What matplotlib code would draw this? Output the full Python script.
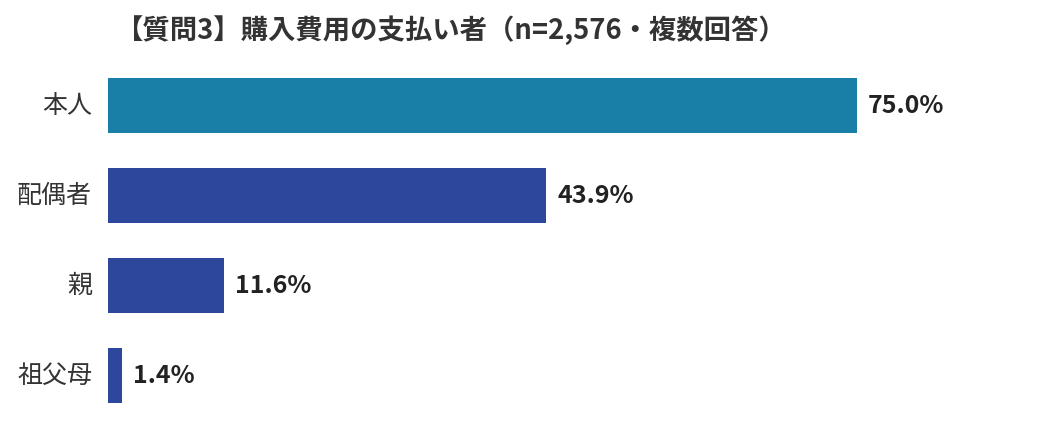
import matplotlib
matplotlib.use("Agg")
import matplotlib.pyplot as plt

plt.rcParams['font.family'] = ['Noto Sans CJK JP', 'DejaVu Sans']

title = "【質問3】購入費用の支払い者（n=2,576・複数回答）"
categories = ["本人", "配偶者", "親", "祖父母"]
values = [75.0, 43.9, 11.6, 1.4]
colors = ["#1a7fa6", "#2d479c", "#2d479c", "#2d479c"]

W, H = 1041, 435
fig = plt.figure(figsize=(W / 100, H / 100), dpi=100)
left_px = 108
ax = fig.add_axes([left_px / W, 0, (W - left_px) / W, 1])
px_per_unit = 9.98
ax.set_xlim(0, (W - left_px) / px_per_unit)
first_c, step = 106.0, 90.0
ax.set_ylim((H - first_c) / step, -first_c / step)

ypos = list(range(len(categories)))
ax.barh(ypos, values, height=55 / step, color=colors)
for y, v in zip(ypos, values):
    ax.text(v + 1.1, y, f"{v:.1f}%", va="center", ha="left",
            fontsize=18, fontweight="bold", color="#222222")
for y, c in zip(ypos, categories):
    ax.text(-1.6, y, c, va="center", ha="right", fontsize=18, color="#333333",
            clip_on=False)

ax.axis("off")
fig.text(116 / W, 1 - 30 / H, title, ha="left", va="center",
         fontsize=19.7, fontweight="bold", color="#333333")

fig.savefig("out.png", dpi=100)
